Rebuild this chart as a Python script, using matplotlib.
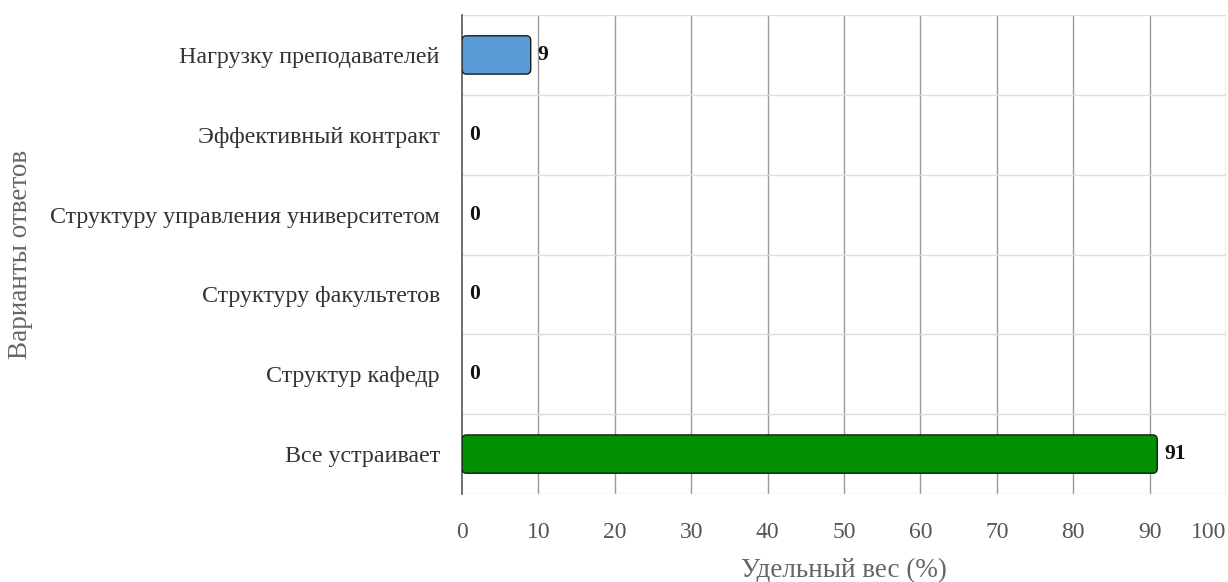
import numpy as np
import matplotlib
matplotlib.use('Agg')
import matplotlib.pyplot as plt
from matplotlib.patches import FancyBboxPatch

## answers (top to bottom) and their share, %
answers = ['Нагрузку преподавателей',
           'Эффективный контракт',
           'Структуру управления университетом',
           'Структуру факультетов',
           'Структур кафедр',
           'Все устраивает']
values  = [9, 0, 0, 0, 0, 91]
colors  = ['#5b9bd5', '#5b9bd5', '#5b9bd5', '#5b9bd5', '#5b9bd5', '#009000']
xticks  = [0, 10, 20, 30, 40, 50, 60, 70, 80, 90, 100]

plt.rcParams['font.family'] = ['Liberation Serif', 'DejaVu Serif']

fig = plt.figure(figsize=(12.28, 5.82), dpi=100, facecolor='w')
ax = fig.add_axes([0.3762, 0.1512, 0.6222, 0.8230])

ypos = np.arange(len(answers))[::-1]
bars = ax.barh(ypos, values, height=0.48, color=colors,
               edgecolor='#1a1a1a', linewidth=1.0, zorder=3)

## swap plain rectangles for rounded ones (zero bars stay invisible)
for b, v in zip(bars, values):
    b.set_visible(False)
    if v == 0:
        continue
    rb = FancyBboxPatch((b.get_x(), b.get_y()), b.get_width(), b.get_height(),
                        boxstyle='round,pad=0,rounding_size=0.6',
                        mutation_aspect=0.1,
                        facecolor=b.get_facecolor(), edgecolor='#1a1a1a',
                        linewidth=1.0, zorder=3)
    ax.add_patch(rb)

## value labels
for y, v in zip(ypos, values):
    ax.text(v + 0.9, y, str(v), va='center', ha='left',
            fontsize=15.5, fontweight='bold', color='#111111', zorder=4)

ax.set_xlim(0, 100)
ax.set_ylim(-0.5, len(answers) - 0.5)
ax.set_xticks(xticks)
ax.set_yticks(ypos)
ax.set_yticklabels(answers)

## grid: vertical dark grey, horizontal band separators light grey
for x in xticks[1:]:
    ax.axvline(x, color='#9a9a9a', lw=1.0, zorder=1)
for y in np.arange(-0.5, len(answers), 1.0):
    ax.axhline(y, color='#dddddd', lw=1.0, zorder=1)

for s in ['top', 'right', 'bottom']:
    ax.spines[s].set_visible(False)
ax.spines['left'].set_color('#555555')
ax.spines['left'].set_linewidth(1.2)

ax.tick_params(axis='y', length=0, pad=16, labelsize=17.3, labelcolor='#333333')
ax.tick_params(axis='x', length=0, pad=20, labelsize=17, labelcolor='#555555')
## last tick label kept inside the figure
ax.get_xticklabels()[-1].set_horizontalalignment('right')

ax.set_xlabel('Удельный вес (%)', fontsize=19.5, color='#666666', labelpad=11)
ax.set_ylabel('Варианты ответов', fontsize=19.5, color='#666666')
ax.yaxis.set_label_coords(-0.561, 0.5)

plt.savefig('out.png', dpi=100, facecolor='w')
plt.close()
